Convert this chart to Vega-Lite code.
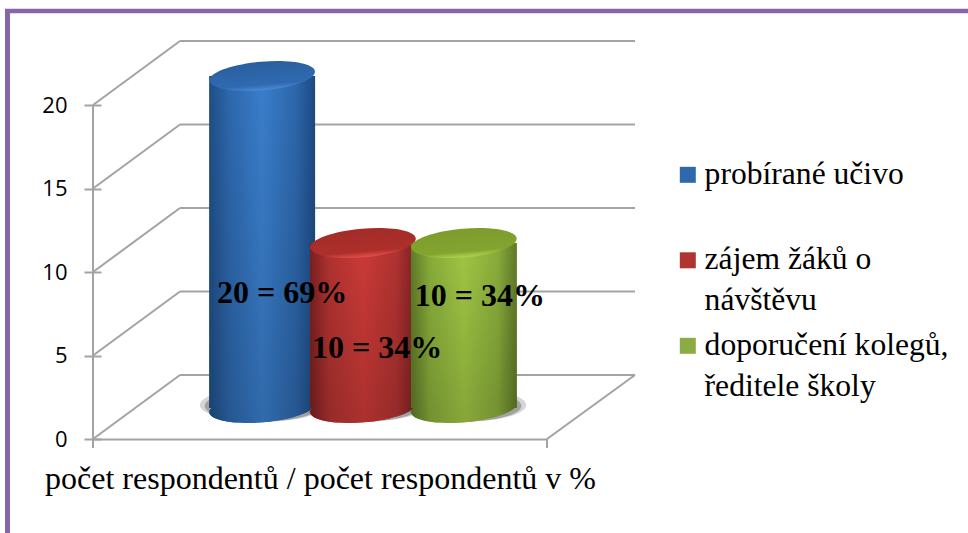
{"$schema":"https://vega.github.io/schema/vega-lite/v6.json","width":454,"height":334,"autosize":"none","padding":{"left":93,"top":105,"right":421,"bottom":94},"background":"white","config":{"view":{"stroke":null}},
"data":{"values":[{"cat":"probírané učivo","value":20,"label":"20 = 69%"},{"cat":"zájem žáků o návštěvu","value":10,"label":"10 = 34%"},{"cat":"doporučení kolegů, ředitele školy","value":10,"label":"10 = 34%"}]},
"layer":[
{"data":{"values":[{"level":0},{"level":5},{"level":10},{"level":15},{"level":20}]},"mark":{"type":"rule","color":"#a3a3a3","strokeWidth":2,"clip":false},"encoding":{"x":{"value":87},"x2":{"value":542},"y":{"field":"level","type":"quantitative","scale":{"domain":[0,20],"nice":false},"axis":{"title":null,"values":[0,5,10,15,20],"domain":false,"grid":false,"offset":-8,"tickSize":17,"tickColor":"#a3a3a3","tickWidth":2,"labelPadding":17,"labelFont":"Open Sans","labelFontSize":22,"labelColor":"#000000"}},"yOffset":{"value":-64}}},
{"data":{"values":[{"level":0},{"level":5},{"level":10},{"level":15},{"level":20}]},"mark":{"type":"rule","color":"#a3a3a3","strokeWidth":2,"y2Offset":-64},"encoding":{"x":{"value":0},"x2":{"value":87},"y":{"field":"level","type":"quantitative"},"y2":{"field":"level"}}},
{"mark":{"type":"point","filled":true,"shape":"M-1,0C-1,-0.15 -0.55,-0.27 0,-0.27C0.55,-0.27 1,-0.15 1,0C1,0.15 0.55,0.27 0,0.27C-0.55,0.27 -1,0.15 -1,0Z","size":15500,"fill":"#777777","opacity":0.3,"xOffset":43,"yOffset":-34},"encoding":{"x":{"field":"cat","type":"nominal","sort":null,"scale":{"paddingInner":0,"paddingOuter":0.75},"axis":{"title":"počet respondentů / počet respondentů v %","labels":false,"ticks":false,"domain":true,"domainColor":"#a3a3a3","domainWidth":2,"titleFont":"Liberation Serif","titleFontSize":32,"titleFontWeight":"normal","titleColor":"#000000","titlePadding":24}},"y":{"datum":0}}},
{"mark":{"type":"point","filled":true,"shape":"M-1,0C-1,-0.15 -0.55,-0.27 0,-0.27C0.55,-0.27 1,-0.15 1,0C1,0.15 0.55,0.27 0,0.27C-0.55,0.27 -1,0.15 -1,0Z","size":13200,"fill":"#555555","opacity":0.4,"xOffset":43,"yOffset":-33},"encoding":{"x":{"field":"cat","type":"nominal","sort":null},"y":{"datum":0}}},
{"mark":{"type":"point","filled":true,"shape":"M-1,0C-1,-0.15 -0.55,-0.27 0,-0.27C0.55,-0.27 1,-0.15 1,0C1,0.15 0.55,0.27 0,0.27C-0.55,0.27 -1,0.15 -1,0Z","size":11236,"opacity":1,"angle":-5,"xOffset":43,"yOffset":-31},"encoding":{"x":{"field":"cat","type":"nominal","sort":null},"y":{"datum":0},"color":{"field":"cat","type":"nominal","sort":null,"scale":{"domain":["probírané učivo","zájem žáků o návštěvu","doporučení kolegů, ředitele školy"],"range":["#2f69ad","#b03432","#8aac43"]},"legend":{"title":null,"orient":"none","legendX":579,"legendY":54,"symbolType":"square","symbolSize":256,"symbolOpacity":1,"labelFont":"Liberation Serif","labelFontSize":31.6,"labelColor":"#000000","labelLimit":400,"labelOffset":1,"rowPadding":11.5,"labelExpr":"datum.label=='probírané učivo'?['probírané učivo',' ']:datum.label=='zájem žáků o návštěvu'?['zájem žáků o','návštěvu']:['doporučení kolegů,','ředitele školy']","encoding":{"labels":{"lineHeight":{"value":41}},"symbols":{"fill":{"condition":[{"test":"datum.value==='probírané učivo'","value":{"gradient":"linear","x1":0,"y1":0,"x2":0,"y2":1,"stops":[{"offset":0,"color":"#6ea6e8"},{"offset":0.5,"color":"#3a7cc8"},{"offset":1,"color":"#1f4e85"}]}},{"test":"datum.value==='zájem žáků o návštěvu'","value":{"gradient":"linear","x1":0,"y1":0,"x2":0,"y2":1,"stops":[{"offset":0,"color":"#ee7a74"},{"offset":0.5,"color":"#cc3a36"},{"offset":1,"color":"#7a2020"}]}}],"value":{"gradient":"linear","x1":0,"y1":0,"x2":0,"y2":1,"stops":[{"offset":0,"color":"#c8e878"},{"offset":0.5,"color":"#9cc043"},{"offset":1,"color":"#5f7a28"}]}}}}}}}},
{"transform":[{"filter":"datum.cat==='probírané učivo'"}],"layer":[
{"mark":{"type":"point","filled":true,"shape":"M-1,0C-1,-0.15 -0.55,-0.27 0,-0.27C0.55,-0.27 1,-0.15 1,0C1,0.15 0.55,0.27 0,0.27C-0.55,0.27 -1,0.15 -1,0Z","size":11236,"opacity":1,"angle":-5,"xOffset":43,"yOffset":-31,"fill":{"gradient":"linear","x1":0,"y1":0,"x2":1,"y2":0,"stops":[{"offset":0,"color":"#1a4170"},{"offset":0.18,"color":"#255791"},{"offset":0.5,"color":"#316bad"},{"offset":0.82,"color":"#255791"},{"offset":1,"color":"#193f6d"}]}},"encoding":{"x":{"field":"cat","type":"nominal","sort":null},"y":{"datum":0}}},
{"mark":{"type":"bar","width":106,"xOffset":43,"x2Offset":43,"yOffset":-29,"y2Offset":-31,"fill":{"gradient":"linear","x1":0,"y1":0,"x2":1,"y2":0,"stops":[{"offset":0,"color":"#1f4e85"},{"offset":0.18,"color":"#2c66ab"},{"offset":0.5,"color":"#3a7ecb"},{"offset":0.82,"color":"#2c66ab"},{"offset":1,"color":"#1d4a80"}]}},"encoding":{"x":{"field":"cat","type":"nominal","sort":null},"y":{"field":"value","type":"quantitative","stack":null},"y2":{"datum":0}}},
{"mark":{"type":"bar","width":106,"xOffset":43,"x2Offset":43,"yOffset":-29,"y2Offset":-31,"fill":{"gradient":"linear","x1":0,"y1":0,"x2":0,"y2":1,"stops":[{"offset":0,"color":"rgba(0,0,0,0)"},{"offset":1,"color":"rgba(0,0,0,0.15)"}]}},"encoding":{"x":{"field":"cat","type":"nominal","sort":null},"y":{"field":"value","type":"quantitative","stack":null},"y2":{"datum":0}}},
{"mark":{"type":"point","filled":true,"opacity":1,"shape":"M-1,0C-1,-0.15 -0.55,-0.27 0,-0.27C0.55,-0.27 1,-0.15 1,0C1,0.15 0.55,0.27 0,0.27C-0.55,0.27 -1,0.15 -1,0Z","size":11236,"angle":-5,"xOffset":43,"yOffset":-29,"fill":{"gradient":"linear","x1":0,"y1":0,"x2":0,"y2":1,"stops":[{"offset":0,"color":"#2a5f9f"},{"offset":0.8,"color":"#2f6ab0"},{"offset":1,"color":"#4a8ad8"}]}},"encoding":{"x":{"field":"cat","type":"nominal","sort":null},"y":{"field":"value","type":"quantitative"}}}]},
{"transform":[{"filter":"datum.cat==='zájem žáků o návštěvu'"}],"layer":[
{"mark":{"type":"point","filled":true,"shape":"M-1,0C-1,-0.15 -0.55,-0.27 0,-0.27C0.55,-0.27 1,-0.15 1,0C1,0.15 0.55,0.27 0,0.27C-0.55,0.27 -1,0.15 -1,0Z","size":11236,"opacity":1,"angle":-5,"xOffset":43,"yOffset":-31,"fill":{"gradient":"linear","x1":0,"y1":0,"x2":1,"y2":0,"stops":[{"offset":0,"color":"#681b1b"},{"offset":0.18,"color":"#962b29"},{"offset":0.5,"color":"#ad312f"},{"offset":0.82,"color":"#962b29"},{"offset":1,"color":"#681b1b"}]}},"encoding":{"x":{"field":"cat","type":"nominal","sort":null},"y":{"datum":0}}},
{"mark":{"type":"bar","width":106,"xOffset":43,"x2Offset":43,"yOffset":-29,"y2Offset":-31,"fill":{"gradient":"linear","x1":0,"y1":0,"x2":1,"y2":0,"stops":[{"offset":0,"color":"#7a2020"},{"offset":0.18,"color":"#b03230"},{"offset":0.5,"color":"#cc3a37"},{"offset":0.82,"color":"#b03230"},{"offset":1,"color":"#7a2020"}]}},"encoding":{"x":{"field":"cat","type":"nominal","sort":null},"y":{"field":"value","type":"quantitative","stack":null},"y2":{"datum":0}}},
{"mark":{"type":"bar","width":106,"xOffset":43,"x2Offset":43,"yOffset":-29,"y2Offset":-31,"fill":{"gradient":"linear","x1":0,"y1":0,"x2":0,"y2":1,"stops":[{"offset":0,"color":"rgba(0,0,0,0)"},{"offset":1,"color":"rgba(0,0,0,0.15)"}]}},"encoding":{"x":{"field":"cat","type":"nominal","sort":null},"y":{"field":"value","type":"quantitative","stack":null},"y2":{"datum":0}}},
{"mark":{"type":"point","filled":true,"opacity":1,"shape":"M-1,0C-1,-0.15 -0.55,-0.27 0,-0.27C0.55,-0.27 1,-0.15 1,0C1,0.15 0.55,0.27 0,0.27C-0.55,0.27 -1,0.15 -1,0Z","size":11236,"angle":-5,"xOffset":43,"yOffset":-29,"fill":{"gradient":"linear","x1":0,"y1":0,"x2":0,"y2":1,"stops":[{"offset":0,"color":"#a32c28"},{"offset":0.8,"color":"#ad2f2b"},{"offset":1,"color":"#e5504a"}]}},"encoding":{"x":{"field":"cat","type":"nominal","sort":null},"y":{"field":"value","type":"quantitative"}}}]},
{"transform":[{"filter":"datum.cat==='doporučení kolegů, ředitele školy'"}],"layer":[
{"mark":{"type":"point","filled":true,"shape":"M-1,0C-1,-0.15 -0.55,-0.27 0,-0.27C0.55,-0.27 1,-0.15 1,0C1,0.15 0.55,0.27 0,0.27C-0.55,0.27 -1,0.15 -1,0Z","size":11236,"opacity":1,"angle":-5,"xOffset":43,"yOffset":-31,"fill":{"gradient":"linear","x1":0,"y1":0,"x2":1,"y2":0,"stops":[{"offset":0,"color":"#516822"},{"offset":0.18,"color":"#749231"},{"offset":0.5,"color":"#88a83a"},{"offset":0.82,"color":"#749231"},{"offset":1,"color":"#516822"}]}},"encoding":{"x":{"field":"cat","type":"nominal","sort":null},"y":{"datum":0}}},
{"mark":{"type":"bar","width":106,"xOffset":43,"x2Offset":43,"yOffset":-29,"y2Offset":-31,"fill":{"gradient":"linear","x1":0,"y1":0,"x2":1,"y2":0,"stops":[{"offset":0,"color":"#5f7a28"},{"offset":0.18,"color":"#88ac3a"},{"offset":0.5,"color":"#a0c644"},{"offset":0.82,"color":"#88ac3a"},{"offset":1,"color":"#5f7a28"}]}},"encoding":{"x":{"field":"cat","type":"nominal","sort":null},"y":{"field":"value","type":"quantitative","stack":null},"y2":{"datum":0}}},
{"mark":{"type":"bar","width":106,"xOffset":43,"x2Offset":43,"yOffset":-29,"y2Offset":-31,"fill":{"gradient":"linear","x1":0,"y1":0,"x2":0,"y2":1,"stops":[{"offset":0,"color":"rgba(0,0,0,0)"},{"offset":1,"color":"rgba(0,0,0,0.15)"}]}},"encoding":{"x":{"field":"cat","type":"nominal","sort":null},"y":{"field":"value","type":"quantitative","stack":null},"y2":{"datum":0}}},
{"mark":{"type":"point","filled":true,"opacity":1,"shape":"M-1,0C-1,-0.15 -0.55,-0.27 0,-0.27C0.55,-0.27 1,-0.15 1,0C1,0.15 0.55,0.27 0,0.27C-0.55,0.27 -1,0.15 -1,0Z","size":11236,"angle":-5,"xOffset":43,"yOffset":-29,"fill":{"gradient":"linear","x1":0,"y1":0,"x2":0,"y2":1,"stops":[{"offset":0,"color":"#7d9c2c"},{"offset":0.8,"color":"#84a430"},{"offset":1,"color":"#b0d44e"}]}},"encoding":{"x":{"field":"cat","type":"nominal","sort":null},"y":{"field":"value","type":"quantitative"}}}]},
{"transform":[{"filter":"datum.value===20"}],"mark":{"type":"text","font":"Liberation Serif","fontWeight":"bold","fontSize":32,"color":"#000000","dx":63,"dy":188},"encoding":{"x":{"field":"cat","type":"nominal","sort":null},"y":{"field":"value","type":"quantitative"},"text":{"field":"label"}}},
{"transform":[{"filter":"datum.cat==='zájem žáků o návštěvu'"}],"mark":{"type":"text","font":"Liberation Serif","fontWeight":"bold","fontSize":32,"color":"#000000","dx":57,"dy":76},"encoding":{"x":{"field":"cat","type":"nominal","sort":null},"y":{"field":"value","type":"quantitative"},"text":{"field":"label"}}},
{"transform":[{"filter":"datum.cat==='doporučení kolegů, ředitele školy'"}],"mark":{"type":"text","font":"Liberation Serif","fontWeight":"bold","fontSize":32,"color":"#000000","dx":59,"dy":24},"encoding":{"x":{"field":"cat","type":"nominal","sort":null},"y":{"field":"value","type":"quantitative"},"text":{"field":"label"}}},
{"data":{"values":[{"edge":"front-left"}]},"mark":{"type":"rule","color":"#a3a3a3","strokeWidth":2},"encoding":{"x":{"value":0},"y":{"datum":20},"y2":{"value":343}}},
{"data":{"values":[{"edge":"front-right"}]},"mark":{"type":"rule","color":"#a3a3a3","strokeWidth":2},"encoding":{"x":{"value":454},"y":{"datum":0},"y2":{"value":343}}},
{"data":{"values":[{"edge":"floor-right"}]},"mark":{"type":"rule","color":"#a3a3a3","strokeWidth":2},"encoding":{"x":{"value":454},"x2":{"value":542},"y":{"datum":0},"y2":{"value":270}}},
{"data":{"values":[{"edge":"frame-top"}]},"mark":{"type":"rule","color":"#8666a8","strokeWidth":4.5},"encoding":{"x":{"value":-88},"x2":{"value":875},"y":{"value":-94}}},
{"data":{"values":[{"edge":"frame-left"}]},"mark":{"type":"rule","color":"#8666a8","strokeWidth":5},"encoding":{"x":{"value":-85.5},"y":{"value":-96},"y2":{"value":428}}}
]}
